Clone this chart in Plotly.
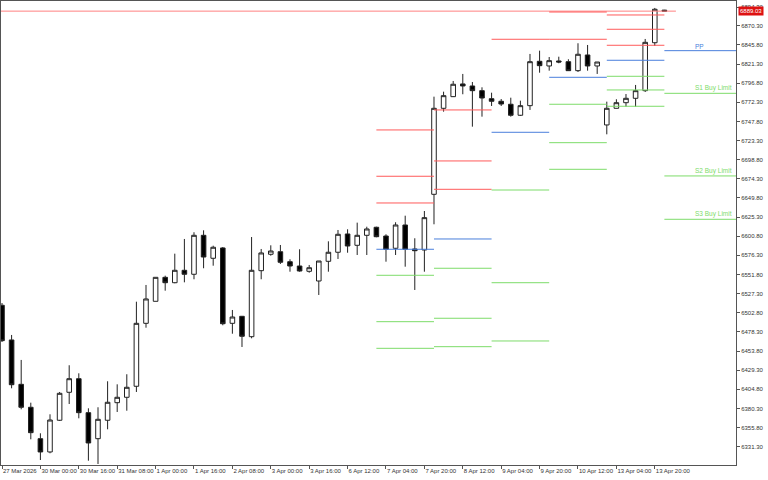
import plotly.graph_objects as go

# ---------------- data (H4 bars) ----------------
bar_index = list(range(70))
opens = [6512.4, 6468.0, 6411.2, 6381.8, 6341.6, 6324.6, 6365.2, 6401.0, 6418.4, 6374.9,
         6341.6, 6365.2, 6387.7, 6394.6, 6408.7, 6489.3, 6517.5, 6548.2, 6541.3, 6557.2,
         6552.1, 6602.0, 6572.6, 6585.8, 6489.3, 6498.3, 6472.2, 6556.7, 6577.7, 6581.0,
         6568.2, 6562.7, 6555.9, 6543.5, 6568.7, 6580.3, 6603.7, 6589.2, 6602.0, 6612.3,
         6601.1, 6585.4, 6615.2, 6584.5, 6583.2, 6654.5, 6764.6, 6779.5, 6795.8, 6793.2,
         6787.2, 6776.9, 6773.6, 6769.8, 6755.7, 6768.0, 6824.8, 6818.8, 6825.2, 6824.3,
         6812.8, 6832.9, 6818.8, 6743.3, 6764.6, 6771.8, 6777.4, 6787.2, 6848.6, 6890.3]
highs = [6515.3, 6474.4, 6442.4, 6387.7, 6348.5, 6372.8, 6401.4, 6435.6, 6425.3, 6380.5,
         6381.8, 6415.1, 6411.2, 6424.1, 6517.0, 6538.4, 6548.2, 6550.3, 6578.5, 6597.3,
         6605.9, 6608.4, 6588.7, 6587.0, 6506.4, 6498.7, 6599.8, 6584.5, 6589.2, 6589.6,
         6571.3, 6584.1, 6564.0, 6569.1, 6594.3, 6608.8, 6609.7, 6618.2, 6613.0, 6613.0,
         6603.3, 6618.7, 6627.1, 6598.2, 6633.1, 6779.5, 6785.9, 6799.6, 6808.6, 6798.3,
         6791.5, 6784.6, 6776.5, 6778.2, 6774.4, 6834.2, 6838.4, 6830.3, 6830.7, 6827.4,
         6847.9, 6845.7, 6823.9, 6773.1, 6776.2, 6782.9, 6794.5, 6853.4, 6893.1, 6890.6]
lows = [6465.4, 6406.1, 6379.2, 6340.8, 6314.3, 6322.9, 6364.3, 6386.0, 6367.7, 6313.4,
        6309.2, 6353.6, 6375.8, 6377.4, 6401.4, 6483.7, 6517.5, 6531.1, 6540.6, 6541.8,
        6545.7, 6559.8, 6563.1, 6486.8, 6476.0, 6459.0, 6470.1, 6545.7, 6575.9, 6565.3,
        6555.4, 6555.4, 6554.1, 6525.6, 6555.4, 6571.7, 6579.7, 6576.8, 6576.8, 6599.5,
        6568.2, 6576.8, 6561.8, 6532.0, 6555.4, 6616.1, 6760.3, 6779.1, 6782.6, 6741.1,
        6753.9, 6767.6, 6767.6, 6753.9, 6754.8, 6762.5, 6810.2, 6812.8, 6822.3, 6812.8,
        6811.1, 6812.8, 6808.6, 6731.3, 6764.4, 6766.7, 6766.7, 6785.5, 6844.4, 6889.0]
closes = [6467.1, 6410.7, 6381.8, 6349.3, 6324.6, 6365.5, 6399.7, 6418.4, 6374.9, 6336.1,
          6366.4, 6388.2, 6394.6, 6407.4, 6489.3, 6520.5, 6548.2, 6541.3, 6557.2, 6552.1,
          6602.0, 6574.2, 6586.7, 6488.8, 6497.4, 6472.7, 6557.2, 6579.4, 6581.9, 6567.5,
          6562.7, 6556.3, 6560.5, 6569.1, 6580.3, 6603.3, 6588.3, 6602.0, 6610.1, 6600.2,
          6584.1, 6615.2, 6584.1, 6582.3, 6624.6, 6764.6, 6780.8, 6795.4, 6793.2, 6787.2,
          6777.8, 6773.6, 6770.1, 6755.7, 6768.0, 6824.3, 6819.2, 6825.6, 6823.9, 6812.8,
          6833.8, 6818.8, 6823.9, 6764.6, 6771.8, 6777.4, 6787.2, 6849.1, 6891.4, 6889.03]

tick_bars = [0, 4, 8, 12, 16, 20, 24, 28, 32, 36, 40, 44, 48, 52, 56, 60, 64, 68]
tick_labels = ["27 Mar 2026", "30 Mar 00:00", "30 Mar 16:00", "31 Mar 08:00", "1 Apr 00:00",
               "1 Apr 16:00", "2 Apr 08:00", "3 Apr 00:00", "3 Apr 16:00", "6 Apr 12:00",
               "7 Apr 04:00", "7 Apr 20:00", "8 Apr 12:00", "9 Apr 04:00", "9 Apr 20:00",
               "10 Apr 12:00", "13 Apr 04:00", "13 Apr 20:00"]

price_ticks = [6331.3, 6355.8, 6380.3, 6404.8, 6429.3, 6453.8, 6478.3, 6502.8, 6527.3,
               6551.8, 6576.3, 6600.8, 6625.3, 6649.8, 6674.3, 6698.8, 6723.3, 6747.8,
               6772.3, 6796.8, 6821.3, 6845.8, 6870.3, 6894.3]

# daily pivot levels (start bar / end bar of each day)
day_start = [39, 45, 51, 57, 63, 69]
day_end = [45, 51, 57, 63, 69, 76.5]
r3 = [6736.9, 6762.5, None, None, 6884.1, None]
r2 = [6677.6, 6697.2, None, 6887.9, 6865.8, None]
r1 = [6643.4, 6660.9, 6853.0, 6853.0, 6845.3, None]
pp = [6584.1, 6597.3, 6733.9, 6804.3, 6826.1, 6838.4]
s1 = [6550.8, 6559.8, 6660.0, 6769.8, 6805.6, 6783.8]
s2 = [6491.4, 6495.8, 6541.3, 6720.6, 6788.1, 6678.0]
s3 = [6457.3, 6459.4, 6466.7, 6686.5, 6767.2, 6622.5]

last_day_labels = {"PP": pp[-1], "S1 Buy Limit": s1[-1], "S2 Buy Limit": s2[-1], "S3 Buy Limit": s3[-1]}
current_price = 6889.03

RED = "#ff5a5a"
BLUE = "#4a7fdc"
GREEN = "#7ddc6a"
FONT = "Liberation Sans"

X_RANGE = [-0.104, 76.46]
Y_RANGE = [6307.9, 6902.0]


def segments(levels_list):
    xs, ys = [], []
    for levels in levels_list:
        for s, e, v in zip(day_start, day_end, levels):
            if v is None:
                continue
            xs += [s, e, None]
            ys += [v, v, None]
    return xs, ys


fig = go.Figure()

# current price line
fig.add_trace(go.Scatter(x=[-0.3, 70.2], y=[current_price, current_price], mode="lines",
                         line=dict(color="#ff8080", width=1), hoverinfo="skip", showlegend=False))

for lv, col in (([r1, r2, r3], RED), ([pp], BLUE), ([s1, s2, s3], GREEN)):
    xs, ys = segments(lv)
    fig.add_trace(go.Scatter(x=xs, y=ys, mode="lines", line=dict(color=col, width=1),
                             hoverinfo="skip", showlegend=False))

fig.add_trace(go.Candlestick(
    x=bar_index, open=opens, high=highs, low=lows, close=closes,
    increasing=dict(line=dict(color="#222222", width=1), fillcolor="white"),
    decreasing=dict(line=dict(color="#222222", width=1), fillcolor="black"),
    whiskerwidth=0, showlegend=False))

annotations = []
for text, val in last_day_labels.items():
    annotations.append(dict(x=72, y=val, xref="x", yref="y", text=text, showarrow=False,
                            xanchor="left", yanchor="bottom", yshift=-1,
                            font=dict(family=FONT, size=6.5, color=BLUE if text == "PP" else GREEN)))
annotations.append(dict(x=1.003, y=current_price, xref="paper", yref="y",
                        text="6889.03", showarrow=False, xanchor="left", yanchor="middle",
                        bgcolor="#dd1111", borderpad=1,
                        font=dict(family=FONT, size=6, color="white")))

fig.update_layout(
    width=768, height=480,
    margin=dict(l=1, r=32, t=1, b=15),
    paper_bgcolor="white", plot_bgcolor="white",
    boxgap=0.32,
    annotations=annotations,
    font=dict(family=FONT, size=6, color="#333333"),
    xaxis=dict(range=X_RANGE, tickmode="array", tickvals=tick_bars, ticktext=tick_labels,
               ticks="outside", ticklen=3, tickcolor="#555555", ticklabelposition="outside right",
               tickangle=0,
               showgrid=False, zeroline=False, showline=True, linecolor="#555555", mirror=True,
               rangeslider=dict(visible=False), automargin=False,
               tickfont=dict(family=FONT, size=6, color="#333333")),
    yaxis=dict(range=Y_RANGE, side="right", tickmode="array", tickvals=price_ticks,
               ticktext=[f"{v:.2f}" for v in price_ticks],
               ticks="outside", ticklen=3, tickcolor="#555555",
               showgrid=False, zeroline=False, showline=True, linecolor="#555555", mirror=True,
               automargin=False, tickfont=dict(family=FONT, size=6, color="#333333")),
)

fig.write_html("out.html", config={"displayModeBar": False},
               post_script="document.body.style.margin='0';document.body.style.overflow='hidden';")
